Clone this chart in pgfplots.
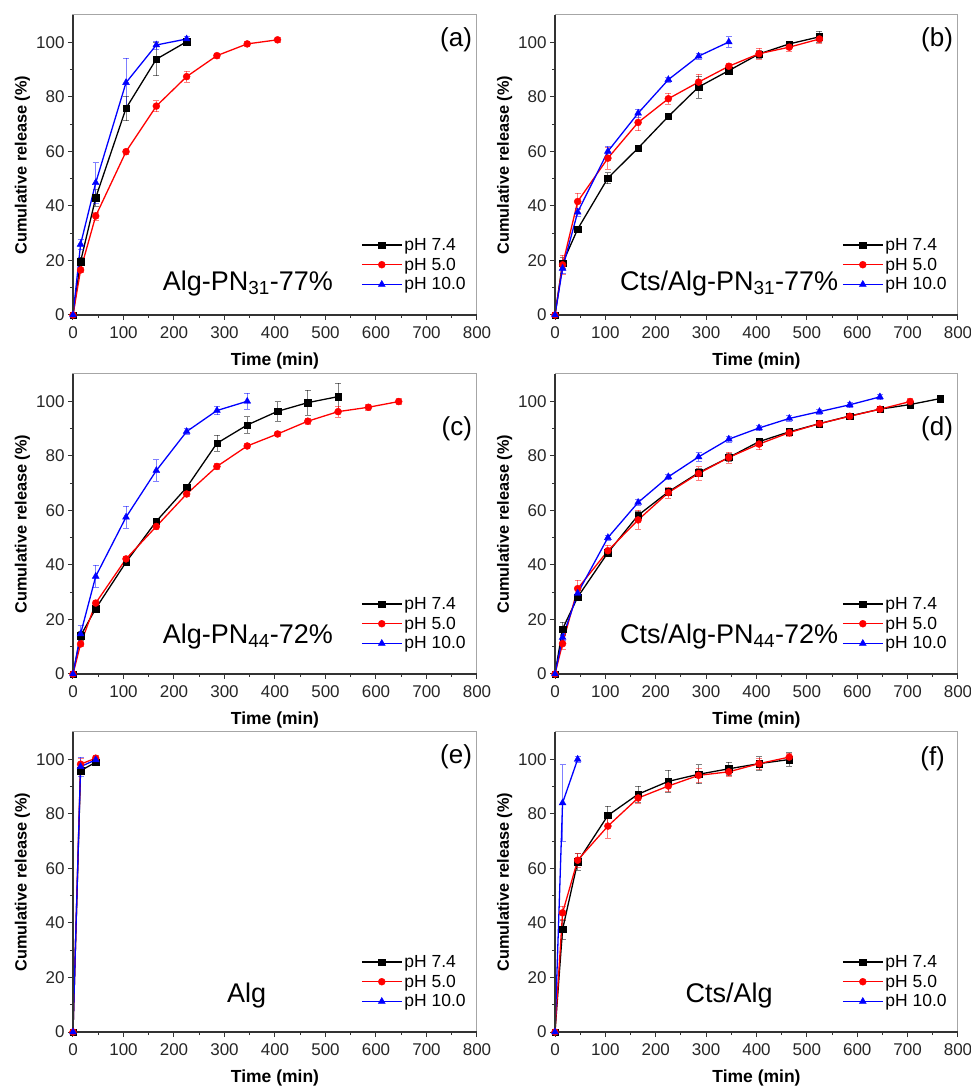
\documentclass[border=0pt]{standalone}
\usepackage{pgfplots}
\pgfplotsset{compat=1.18}
\usepackage{fontspec}
\setmainfont{Liberation Sans}

\pgfplotsset{
  panel/.style={
    scale only axis, width=404pt, height=300pt,
    xmin=0, xmax=800, ymin=0, ymax=110,
    xtick={0,100,...,800}, ytick={0,20,...,100},
    minor x tick num=1, minor y tick num=1,
    tick align=outside, tick pos=left,
    major tick length=5pt, minor tick length=3pt,
    every tick/.style={black!80, line width=1pt},
    axis line style={gray!70, line width=1pt},
    tick label style={font=\fontsize{17}{19}\selectfont, text=black!85},
    xticklabel style={yshift=-3pt},
    /pgf/number format/assume math mode=true,
    xlabel={Time (min)}, ylabel={Cumulative release (\%)},
    xlabel style={font=\fontsize{17.5}{20}\selectfont\bfseries, at={(axis description cs:0.5,-0.153)}, anchor=center},
    ylabel style={font=\fontsize{16.3}{19}\selectfont\bfseries, at={(axis description cs:-0.125,0.5)}, anchor=center},
    clip=false,
    legend style={draw=none, fill=none, font=\fontsize{17.5}{20}\selectfont,
      at={(axis description cs:0.985,0.065)}, anchor=south east, row sep=2pt},
    legend cell align=left,
    legend image code/.code={
      \draw[mark repeat=2, mark phase=2, #1] plot coordinates {(0pt,0pt) (20pt,0pt) (40pt,0pt)};
    },
    error bars/y dir=both, error bars/y explicit,
    error bars/error bar style={line width=0.8pt, opacity=0.5},
    error bars/error mark options={rotate=90, mark size=3pt, line width=0.8pt, opacity=0.5},
  },
  s74/.style={black, line width=1.3pt, mark=square*, mark size=3.2pt, mark options={line width=0.4pt}},
  s50/.style={red, line width=1.3pt, mark=*, mark size=3.5pt, mark options={line width=0.4pt}},
  s10/.style={blue, line width=1.3pt, mark=triangle*, mark size=4pt, mark options={line width=0.4pt}},
}
\newcommand{\darkaxes}{\draw[black!80, line width=1.6pt] (axis description cs:0,1) -- (axis description cs:0,0) -- (axis description cs:1,0);}
\newcommand{\pnl}[1]{\node[font=\fontsize{26}{30}\selectfont, anchor=north east, inner sep=0pt] at (axis description cs:0.988,0.957) {#1};}

\begin{document}
\begin{tikzpicture}
\useasboundingbox (0pt,0pt) rectangle (971pt,1088pt);

% (a)
\begin{axis}[panel, at={(73pt,773pt)}, anchor=south west]
\addplot[s74] table[x=t, y=v, y error=e] {
t v e
0 0 0
15 19.6 1.5
45 43 3
105 75.8 4.5
165 93.8 6
225 100.2 1
};
\addplot[s50] table[x=t, y=v, y error=e] {
t v e
0 0 0
15 16.5 1
45 36.3 1.5
105 59.9 1
165 76.6 2
225 87.4 2
285 95.1 1
345 99.4 0.8
405 100.9 0.8
};
\addplot[s10] table[x=t, y=v, y error=e] {
t v e
0 0 0
15 25.9 2
45 48.5 7.4
105 85.2 9
165 99 1.5
225 101.2 1
};
\legend{pH 7.4, pH 5.0, pH 10.0}
\darkaxes
\pnl{(a)}
\node[font=\fontsize{27}{30}\selectfont, anchor=base, inner sep=0pt] at (axis description cs:0.433,0.083) {Alg-PN\textsubscript{31}-77\%};
\end{axis}

% (b)
\begin{axis}[panel, width=403pt, at={(555pt,773pt)}, anchor=south west]
\addplot[s74] table[x=t, y=v, y error=e] {
t v e
0 0 0
15 19 2
45 31.5 1
105 50.2 2
165 61.2 1
225 72.8 1
285 83.6 4
345 89.6 1
405 95.7 1.5
465 99.4 1
525 102 2
};
\addplot[s50] table[x=t, y=v, y error=e] {
t v e
0 0 0
15 18.4 3.5
45 41.6 3
105 57.5 4
165 70.6 3
225 79.3 2
285 85.4 3
345 91.2 1
405 95.8 2
465 98.2 1.5
525 101.2 1.5
};
\addplot[s10] table[x=t, y=v, y error=e] {
t v e
0 0 0
15 17.1 2
45 37.7 1.5
105 60 2
165 74 1.5
225 86.3 1
285 94.9 1
345 100.1 2
};
\legend{pH 7.4, pH 5.0, pH 10.0}
\darkaxes
\pnl{(b)}
\node[font=\fontsize{27}{30}\selectfont, anchor=base, inner sep=0pt] at (axis description cs:0.432,0.083) {Cts/Alg-PN\textsubscript{31}-77\%};
\end{axis}

% (c)
\begin{axis}[panel, at={(73pt,414pt)}, anchor=south west]
\addplot[s74] table[x=t, y=v, y error=e] {
t v e
0 0 0
15 14 1.5
45 24 1
105 41 1
165 56 1
225 68.4 1
285 84.6 3
345 91.3 3
405 96.3 3.5
465 99.5 4.5
525 101.7 5
};
\addplot[s50] table[x=t, y=v, y error=e] {
t v e
0 0 0
15 11 1
45 26 1
105 42.2 1
165 54.1 1
225 66 1
285 76.1 1
345 83.6 1
405 88 1
465 92.7 1
525 96.2 2
585 97.8 1
645 99.9 1
};
\addplot[s10] table[x=t, y=v, y error=e] {
t v e
0 0 0
15 14.7 3
45 35.8 4
105 57.5 4
165 74.6 4
225 88.9 1
285 96.6 1.5
345 100 3
};
\legend{pH 7.4, pH 5.0, pH 10.0}
\darkaxes
\node[font=\fontsize{26}{30}\selectfont, anchor=north east, inner sep=0pt] at (axis description cs:0.988,0.857) {(c)};
\node[font=\fontsize{27}{30}\selectfont, anchor=base, inner sep=0pt] at (axis description cs:0.433,0.103) {Alg-PN\textsubscript{44}-72\%};
\end{axis}

% (d)
\begin{axis}[panel, width=403pt, at={(555pt,414pt)}, anchor=south west]
\addplot[s74] table[x=t, y=v, y error=e] {
t v e
0 0 0
15 16.5 2.5
45 28.2 1
105 44.5 1.5
165 58.2 1.5
225 66.8 1
285 73.8 1.5
345 79.4 1.5
405 85.2 1
465 88.8 1
525 91.8 1
585 94.6 1
645 97.1 1
705 98.8 1
765 101 0.5
};
\addplot[s50] table[x=t, y=v, y error=e] {
t v e
0 0 0
15 11.1 2
45 31.3 3
105 45.2 2
165 56.5 3.5
225 66.5 2
285 73.5 2.5
345 79.4 2
405 84.3 2
465 88.5 1.5
525 91.8 1
585 94.5 1
645 97.1 1
705 99.9 1
};
\addplot[s10] table[x=t, y=v, y error=e] {
t v e
0 0 0
15 13.4 1
45 29.6 1
105 50 1
165 62.9 1
225 72.3 1
285 79.6 1.5
345 86.1 1
405 90.2 1
465 93.7 1
525 96.2 1
585 98.7 1
645 101.6 1
};
\legend{pH 7.4, pH 5.0, pH 10.0}
\darkaxes
\node[font=\fontsize{26}{30}\selectfont, anchor=north east, inner sep=0pt] at (axis description cs:0.988,0.857) {(d)};
\node[font=\fontsize{27}{30}\selectfont, anchor=base, inner sep=0pt] at (axis description cs:0.432,0.103) {Cts/Alg-PN\textsubscript{44}-72\%};
\end{axis}

% (e)
\begin{axis}[panel, at={(73pt,56pt)}, anchor=south west]
\addplot[s74] table[x=t, y=v, y error=e] {
t v e
0 0 0
15 95.8 1.5
45 98.9 1
};
\addplot[s50] table[x=t, y=v, y error=e] {
t v e
0 0 0
15 98.2 2
45 100.4 1
};
\addplot[s10] table[x=t, y=v, y error=e] {
t v e
0 0 0
15 97.3 3.5
45 99.8 1
};
\legend{pH 7.4, pH 5.0, pH 10.0}
\darkaxes
\pnl{(e)}
\node[font=\fontsize{27}{30}\selectfont, anchor=base, inner sep=0pt] at (axis description cs:0.43,0.097) {Alg};
\end{axis}

% (f)
\begin{axis}[panel, width=403pt, at={(555pt,56pt)}, anchor=south west]
\addplot[s74] table[x=t, y=v, y error=e] {
t v e
0 0 0
15 37.6 3.5
45 62.4 3
105 79.4 3.5
165 87.2 3
225 91.9 4
285 94.5 3.5
345 96.5 2.5
405 98.4 2.5
465 99.9 2.5
};
\addplot[s50] table[x=t, y=v, y error=e] {
t v e
0 0 0
15 43.7 2.5
45 63 2.5
105 75.5 4.5
165 85.8 2
225 90.2 2
285 94.1 2.5
345 95.4 1.5
405 98.4 2
465 100.8 1.5
};
\addplot[s10] table[x=t, y=v, y error=e] {
t v e
0 0 0
15 84 14
45 100 1
};
\legend{pH 7.4, pH 5.0, pH 10.0}
\darkaxes
\node[font=\fontsize{26}{30}\selectfont, anchor=north east, inner sep=0pt] at (axis description cs:0.968,0.953) {(f)};
\node[font=\fontsize{27}{30}\selectfont, anchor=base, inner sep=0pt] at (axis description cs:0.432,0.097) {Cts/Alg};
\end{axis}
\end{tikzpicture}
\end{document}
